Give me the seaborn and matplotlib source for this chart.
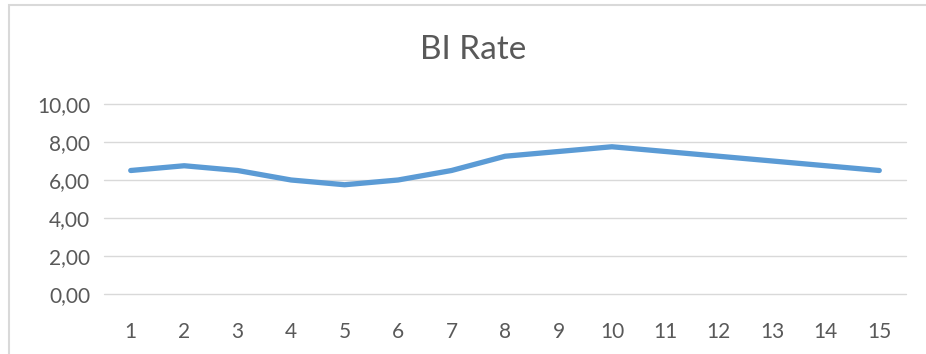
import matplotlib
matplotlib.use("Agg")
import matplotlib.pyplot as plt
from matplotlib.patches import Rectangle
import seaborn as sns
import pandas as pd

# BI Rate series (percent) over 15 periods
periods = list(range(1, 16))
bi_rate = [6.50, 6.75, 6.50, 6.00, 5.75, 6.00, 6.50, 7.25, 7.50, 7.75, 7.50, 7.25, 7.00, 6.75, 6.50]
y_ticks = [0, 2, 4, 6, 8, 10]
title_text = "BI Rate"

df = pd.DataFrame({"period": periods, "rate": bi_rate})

sns.set_style("white")
plt.rcParams["font.family"] = ["Lato", "DejaVu Sans"]

fig = plt.figure(figsize=(9.26, 3.54), dpi=100)
ax = fig.add_axes([104 / 926, 1 - 294 / 354, 802 / 926, 190 / 354])

sns.lineplot(data=df, x="period", y="rate", ax=ax, color="#5B9BD5", linewidth=3.8,
             solid_capstyle="round", solid_joinstyle="round")

ax.set_xlim(0.5, 15.5)
ax.set_ylim(0, 10)
ax.set_xticks(periods)
ax.set_xticklabels([str(p) for p in periods])
ax.set_yticks(y_ticks)
ax.set_yticklabels([f"{v:.2f}".replace(".", ",") for v in y_ticks])
ax.set_xlabel("")
ax.set_ylabel("")

ax.grid(axis="y", color="#D9D9D9", linewidth=1.0)
for gl in ax.get_ygridlines():
    gl.set_clip_on(False)
ax.set_axisbelow(True)
for s in ax.spines.values():
    s.set_visible(False)
ax.tick_params(axis="both", length=0, labelsize=15, labelcolor="#595959")
ax.tick_params(axis="x", pad=20)
ax.tick_params(axis="y", pad=10)

fig.text(473 / 926, 1 - 50 / 354, title_text, ha="center", va="center",
         fontsize=24, color="#595959")

# light frame around the chart area
fig.patches.append(Rectangle((9 / 926, -0.1), 1.0, 1 - 5 / 354 + 0.1, transform=fig.transFigure,
                             fill=False, edgecolor="#D9D9D9", linewidth=1.5))

fig.savefig("out.png", dpi=100)
